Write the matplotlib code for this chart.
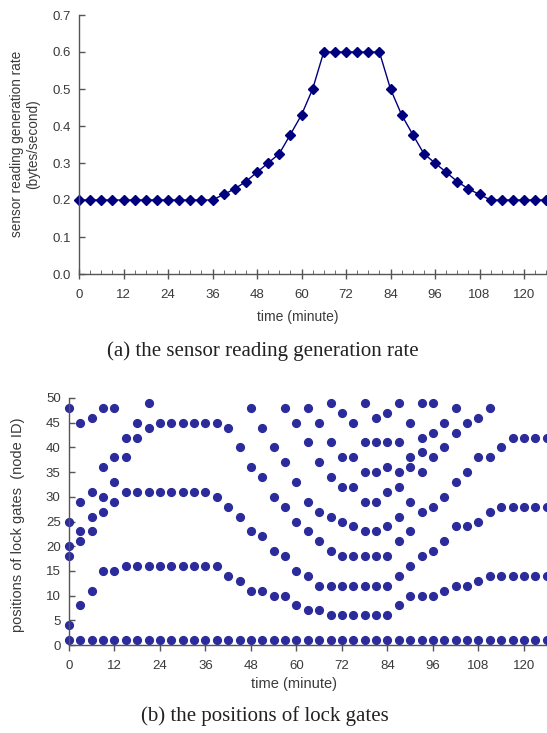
import matplotlib
matplotlib.use("Agg")
import matplotlib.pyplot as plt
from matplotlib.ticker import MultipleLocator, FormatStrFormatter

# (a) sensor reading generation rate, one reading every 3 minutes
rate_time = [0, 3, 6, 9, 12, 15, 18, 21, 24, 27, 30, 33, 36, 39, 42, 45, 48, 51, 54, 57, 60,
             63, 66, 69, 72, 75, 78, 81, 84, 87, 90, 93, 96, 99, 102, 105, 108, 111, 114,
             117, 120, 123, 126]
rate_value = [0.2, 0.2, 0.2, 0.2, 0.2, 0.2, 0.2, 0.2, 0.2, 0.2, 0.2, 0.2, 0.2,
              0.215, 0.23, 0.25, 0.275, 0.30, 0.325, 0.377, 0.43, 0.5,
              0.6, 0.6, 0.6, 0.6, 0.6, 0.6,
              0.5, 0.43, 0.377, 0.325, 0.30, 0.275, 0.25, 0.23, 0.215,
              0.2, 0.2, 0.2, 0.2, 0.2, 0.2]

# (b) node IDs holding a lock gate at each sampled minute
gate_time = rate_time
gate_nodes = [
    [48, 25, 20, 18, 4, 1],
    [45, 29, 23, 21, 8, 1],
    [46, 31, 26, 23, 11, 1],
    [48, 36, 30, 27, 15, 1],
    [48, 38, 33, 29, 15, 1],
    [42, 38, 31, 16, 1],
    [45, 42, 31, 16, 1],
    [49, 44, 31, 16, 1],
    [45, 31, 16, 1],
    [45, 31, 16, 1],
    [45, 31, 16, 1],
    [45, 31, 16, 1],
    [45, 31, 16, 1],
    [45, 30, 16, 1],
    [44, 28, 14, 1],
    [40, 26, 13, 1],
    [48, 36, 23, 11, 1],
    [44, 34, 22, 11, 1],
    [40, 30, 19, 10, 1],
    [48, 37, 28, 18, 10, 1],
    [45, 33, 25, 15, 8, 1],
    [48, 41, 29, 23, 14, 7, 1],
    [45, 37, 27, 21, 12, 7, 1],
    [49, 41, 34, 26, 19, 12, 6, 1],
    [47, 38, 32, 25, 18, 12, 6, 1],
    [45, 38, 32, 24, 18, 12, 6, 1],
    [49, 41, 35, 29, 23, 18, 12, 6, 1],
    [46, 41, 35, 29, 23, 18, 12, 6, 1],
    [47, 41, 36, 31, 24, 18, 12, 6, 1],
    [49, 41, 35, 32, 26, 21, 14, 8, 1],
    [45, 38, 36, 29, 23, 16, 10, 1],
    [49, 42, 39, 35, 27, 18, 10, 1],
    [49, 43, 38, 28, 19, 10, 1],
    [45, 40, 30, 21, 11, 1],
    [48, 43, 33, 24, 12, 1],
    [45, 35, 24, 12, 1],
    [46, 38, 25, 13, 1],
    [48, 38, 27, 14, 1],
    [40, 28, 14, 1],
    [42, 28, 14, 1],
    [42, 28, 14, 1],
    [42, 28, 14, 1],
    [42, 28, 14, 1],
]

W, H = 547, 733
SANS = "Liberation Sans"
SERIF = "Liberation Serif"
TXT = "#3a3a3a"
AX = "#555555"

fig = plt.figure(figsize=(W / 100, H / 100), dpi=100)
fig.patch.set_facecolor("white")


def frame(ax):
    for s in ("top", "right"):
        ax.spines[s].set_visible(False)
    for s in ("left", "bottom"):
        ax.spines[s].set_color(AX)
        ax.spines[s].set_linewidth(1.0)
    ax.tick_params(colors=AX, labelcolor=TXT, labelsize=9.5, width=1.0)
    for lab in ax.get_xticklabels() + ax.get_yticklabels():
        lab.set_fontfamily(SANS)


# ---- top panel
ax1 = fig.add_axes([79 / W, 1 - 274 / H, 1 - 79 / W, (274 - 15) / H])
ax1.plot(rate_time, rate_value, color="#00007f", lw=1.0, marker="D", ms=4.6,
         mec="#00007f", mfc="#00007f", clip_on=False)
ax1.set_xlim(0, 126.2)
ax1.set_ylim(0, 0.7)
ax1.xaxis.set_major_locator(MultipleLocator(12))
ax1.xaxis.set_minor_locator(MultipleLocator(3))
ax1.yaxis.set_major_locator(MultipleLocator(0.1))
ax1.yaxis.set_major_formatter(FormatStrFormatter("%.1f"))
frame(ax1)
ax1.tick_params(axis="x", which="major", direction="inout", length=7, pad=7)
ax1.tick_params(axis="x", which="minor", direction="in", length=3, color=AX)
ax1.tick_params(axis="y", which="major", direction="in", length=4, pad=6)

fig.text(25 / W, 1 - 144 / H, "sensor reading generation rate\n(bytes/second)",
         rotation=90, ha="center", va="center", fontsize=9.8, family=SANS,
         color=TXT, linespacing=1.2, multialignment="center")
fig.text(298 / W, 1 - 317 / H, "time (minute)", ha="center", va="center",
         fontsize=10, family=SANS, color=TXT)
fig.text(263 / W, 1 - 351 / H, "(a) the sensor reading generation rate",
         ha="center", va="center", fontsize=15, family=SERIF, color="#222222")

# ---- bottom panel
ax2 = fig.add_axes([69 / W, 1 - 645 / H, 1 - 69 / W, (645 - 398) / H])
for t, nodes in zip(gate_time, gate_nodes):
    ax2.plot([t] * len(nodes), nodes, ls="none", marker="o", ms=5.6,
             color="#2b2b9c", mec="#2b2b9c", clip_on=False)
ax2.set_xlim(0, 126.1)
ax2.set_ylim(0, 50)
ax2.xaxis.set_major_locator(MultipleLocator(12))
ax2.yaxis.set_major_locator(MultipleLocator(5))
frame(ax2)
ax2.tick_params(axis="x", direction="out", length=4, pad=7)
ax2.tick_params(axis="y", direction="in", length=4, pad=6)

fig.text(18 / W, 1 - 525 / H, "positions of lock gates  (node ID)",
         rotation=90, ha="center", va="center", fontsize=10.5, family=SANS, color=TXT)
fig.text(294 / W, 1 - 684 / H, "time (minute)", ha="center", va="center",
         fontsize=10.5, family=SANS, color=TXT)
fig.text(265 / W, 1 - 716 / H, "(b) the positions of lock gates",
         ha="center", va="center", fontsize=15, family=SERIF, color="#222222")

fig.savefig("out.png", dpi=100)
